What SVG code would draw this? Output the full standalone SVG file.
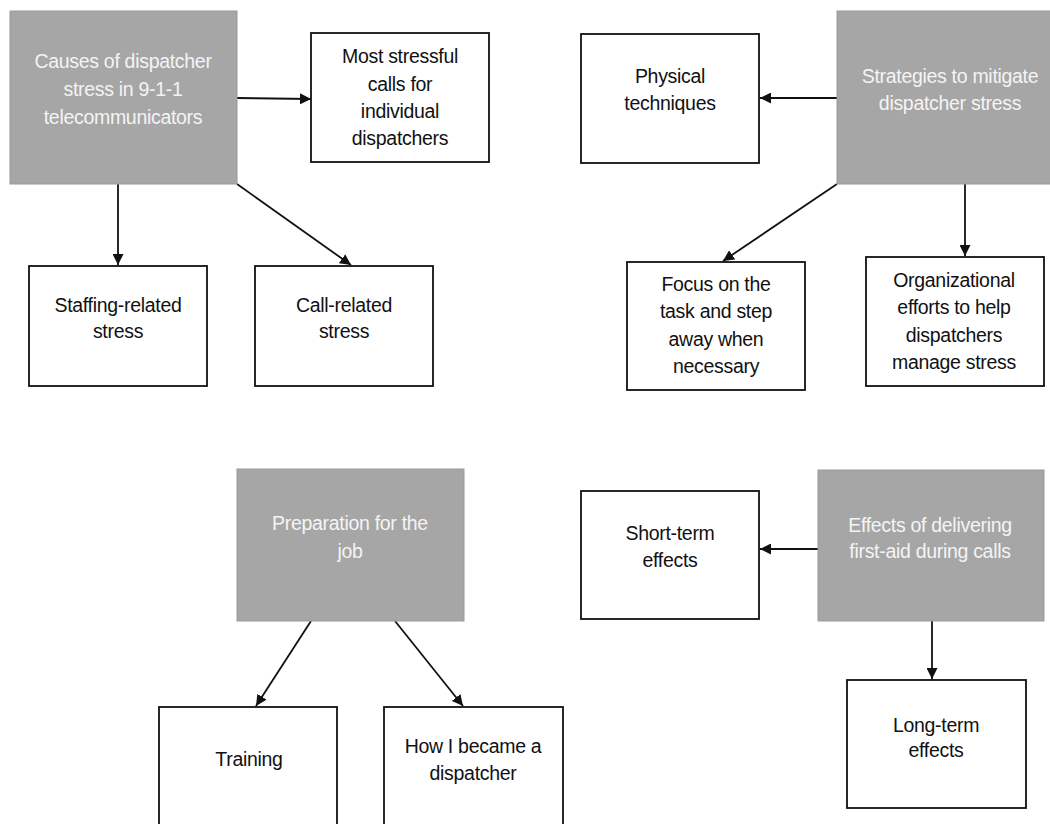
<svg xmlns="http://www.w3.org/2000/svg" width="1050" height="824" viewBox="0 0 1050 824">
<defs>
<style>
.g{fill:#a6a6a6;stroke:#9a9a9a;stroke-width:1}
.w{fill:#fff;stroke:#111;stroke-width:1.8}
text{font-family:"Liberation Sans",Arial,sans-serif;font-size:19.5px;letter-spacing:-0.3px;text-anchor:middle}
.tw{fill:#f4f4f4}
.tb{fill:#111}
.c{stroke:#111;stroke-width:1.8;fill:none;marker-end:url(#ah)}
</style>
<marker id="ah" viewBox="0 0 11 11" refX="11" refY="5.5" markerWidth="11" markerHeight="11" markerUnits="userSpaceOnUse" orient="auto">
<path d="M0,0 L11,5.5 L0,11 Z" fill="#111"/>
</marker>
</defs>
<rect width="1050" height="824" fill="#fff"/>
<g id="connectors">
<line class="c" x1="237" y1="98" x2="311" y2="99"/>
<line class="c" x1="118" y1="184" x2="118" y2="265"/>
<line class="c" x1="237" y1="184" x2="351" y2="265"/>
<line class="c" x1="837" y1="98" x2="760" y2="98"/>
<line class="c" x1="837" y1="184" x2="723" y2="261"/>
<line class="c" x1="965" y1="184" x2="965" y2="256"/>
<line class="c" x1="311" y1="621" x2="256" y2="706"/>
<line class="c" x1="395" y1="621" x2="463" y2="706"/>
<line class="c" x1="818" y1="549" x2="760" y2="549"/>
<line class="c" x1="932" y1="621" x2="932" y2="679"/>
</g>
<g id="causes">
<rect class="g" x="10" y="11" width="227" height="173"/>
<text class="tw"><tspan x="123" y="68">Causes of dispatcher</tspan><tspan x="123" y="96">stress in 9-1-1</tspan><tspan x="123" y="124">telecommunicators</tspan></text>
</g>
<g id="most-stressful">
<rect class="w" x="311" y="33" width="178" height="129"/>
<text class="tb"><tspan x="400" y="63">Most stressful</tspan><tspan x="400" y="91">calls for</tspan><tspan x="400" y="118">individual</tspan><tspan x="400" y="145">dispatchers</tspan></text>
</g>
<g id="staffing">
<rect class="w" x="29" y="266" width="178" height="120"/>
<text class="tb"><tspan x="118" y="312">Staffing-related</tspan><tspan x="118" y="338">stress</tspan></text>
</g>
<g id="call-related">
<rect class="w" x="255" y="266" width="178" height="120"/>
<text class="tb"><tspan x="344" y="312">Call-related</tspan><tspan x="344" y="338">stress</tspan></text>
</g>
<g id="strategies">
<rect class="g" x="837" y="11" width="227" height="173"/>
<text class="tw"><tspan x="950" y="83">Strategies to mitigate</tspan><tspan x="950" y="110">dispatcher stress</tspan></text>
</g>
<g id="physical">
<rect class="w" x="581" y="34" width="178" height="129"/>
<text class="tb"><tspan x="670" y="83">Physical</tspan><tspan x="670" y="110">techniques</tspan></text>
</g>
<g id="focus">
<rect class="w" x="627" y="262" width="178" height="128"/>
<text class="tb"><tspan x="716" y="291">Focus on the</tspan><tspan x="716" y="318">task and step</tspan><tspan x="716" y="346">away when</tspan><tspan x="716" y="373">necessary</tspan></text>
</g>
<g id="organizational">
<rect class="w" x="866" y="257" width="178" height="129"/>
<text class="tb"><tspan x="954" y="287">Organizational</tspan><tspan x="954" y="314">efforts to help</tspan><tspan x="954" y="342">dispatchers</tspan><tspan x="954" y="369">manage stress</tspan></text>
</g>
<g id="preparation">
<rect class="g" x="237" y="469" width="227" height="152"/>
<text class="tw"><tspan x="350" y="530">Preparation for the</tspan><tspan x="350" y="558">job</tspan></text>
</g>
<g id="training">
<rect class="w" x="159" y="707" width="178" height="130"/>
<text class="tb"><tspan x="249" y="766">Training</tspan></text>
</g>
<g id="how-i-became">
<rect class="w" x="384" y="707" width="179" height="130"/>
<text class="tb"><tspan x="473" y="753">How I became a</tspan><tspan x="473" y="780">dispatcher</tspan></text>
</g>
<g id="effects">
<rect class="g" x="818" y="470" width="226" height="151"/>
<text class="tw"><tspan x="930" y="532">Effects of delivering</tspan><tspan x="930" y="558">first-aid during calls</tspan></text>
</g>
<g id="short-term">
<rect class="w" x="581" y="491" width="178" height="128"/>
<text class="tb"><tspan x="670" y="540">Short-term</tspan><tspan x="670" y="567">effects</tspan></text>
</g>
<g id="long-term">
<rect class="w" x="847" y="680" width="179" height="128"/>
<text class="tb"><tspan x="936" y="732">Long-term</tspan><tspan x="936" y="757">effects</tspan></text>
</g>
</svg>
